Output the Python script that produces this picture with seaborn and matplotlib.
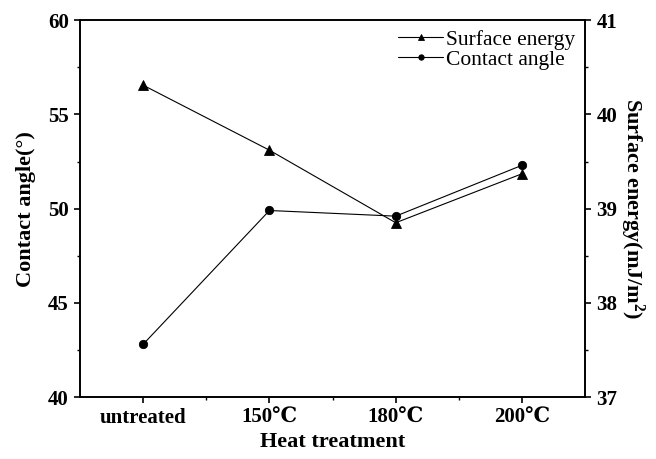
import pandas as pd
import matplotlib
matplotlib.use("Agg")
import matplotlib.pyplot as plt
import seaborn as sns
from matplotlib.ticker import MultipleLocator

# data
treatments = ["untreated", "150℃", "180℃", "200℃"]
contact_angle = [42.8, 49.9, 49.6, 52.3]
surface_energy = [40.31, 39.62, 38.85, 39.37]

df = pd.DataFrame({"treatment": treatments,
                   "contact_angle": contact_angle,
                   "surface_energy": surface_energy})

sns.set_theme(style="ticks")
plt.rcParams["font.family"] = ["Liberation Serif", "DejaVu Serif"]
plt.rcParams["mathtext.fontset"] = "custom"
plt.rcParams["mathtext.rm"] = "Liberation Serif"
plt.rcParams["mathtext.bf"] = "Liberation Serif:bold"
plt.rcParams["text.color"] = "black"
plt.rcParams["axes.labelcolor"] = "black"
plt.rcParams["xtick.color"] = "black"
plt.rcParams["ytick.color"] = "black"

fig = plt.figure(figsize=(6.56, 4.59), dpi=100)
ax1 = fig.add_axes([0.122, 0.135, 0.770, 0.821])
ax2 = ax1.twinx()

sns.pointplot(data=df, x="treatment", y="contact_angle", ax=ax1,
              color="black", marker="o", markersize=6, linewidth=0.8,
              label="Contact angle")
sns.pointplot(data=df, x="treatment", y="surface_energy", ax=ax2,
              color="black", marker="^", markersize=6.5, linewidth=0.8,
              label="Surface energy")

ax1.set_xlim(-0.5, 3.5)
ax1.set_ylim(40, 60)
ax2.set_ylim(37, 41)
ax1.yaxis.set_major_locator(MultipleLocator(5))
ax1.yaxis.set_minor_locator(MultipleLocator(2.5))
ax2.yaxis.set_major_locator(MultipleLocator(1))
ax2.yaxis.set_minor_locator(MultipleLocator(0.5))
ax1.set_xticks([0, 1, 2, 3])
ax1.set_xticks([0.5, 1.5, 2.5], minor=True)
ax1.set_xticklabels(treatments)

ax1.set_xlabel("Heat treatment", fontsize=16, fontweight="bold", labelpad=3)
ax1.set_ylabel("Contact angle(°)", fontsize=16, fontweight="bold", labelpad=9)
ax2.set_ylabel(r"Surface energy(mJ/m$\mathbf{^2}$)", fontsize=16,
               fontweight="bold", rotation=270, labelpad=21)

for ax in (ax1, ax2):
    for sp in ax.spines.values():
        sp.set_linewidth(1.2)
        sp.set_color("black")
    ax.tick_params(which="major", direction="out", length=4.5, width=1.2,
                   labelsize=15, colors="black")
    ax.tick_params(which="minor", direction="out", length=2.5, width=1.0)
    for lab in ax.get_xticklabels() + ax.get_yticklabels():
        lab.set_fontweight("bold")
ax1.tick_params(axis="y", which="both", right=False)
ax2.tick_params(axis="y", which="both", left=False, right=True)
ax2.tick_params(axis="x", which="both", top=False)

h1, l1 = ax1.get_legend_handles_labels()
h2, l2 = ax2.get_legend_handles_labels()
if ax1.get_legend():
    ax1.get_legend().remove()
if ax2.get_legend():
    ax2.get_legend().remove()
ax2.legend(h2 + h1, l2 + l1, loc="upper right", frameon=False,
           fontsize=15.5, handlelength=2.1, handletextpad=0.15,
           labelspacing=0.0, borderaxespad=0.05, markerscale=0.65,
           bbox_to_anchor=(1.0, 1.0))

fig.savefig("out.png", dpi=100)
